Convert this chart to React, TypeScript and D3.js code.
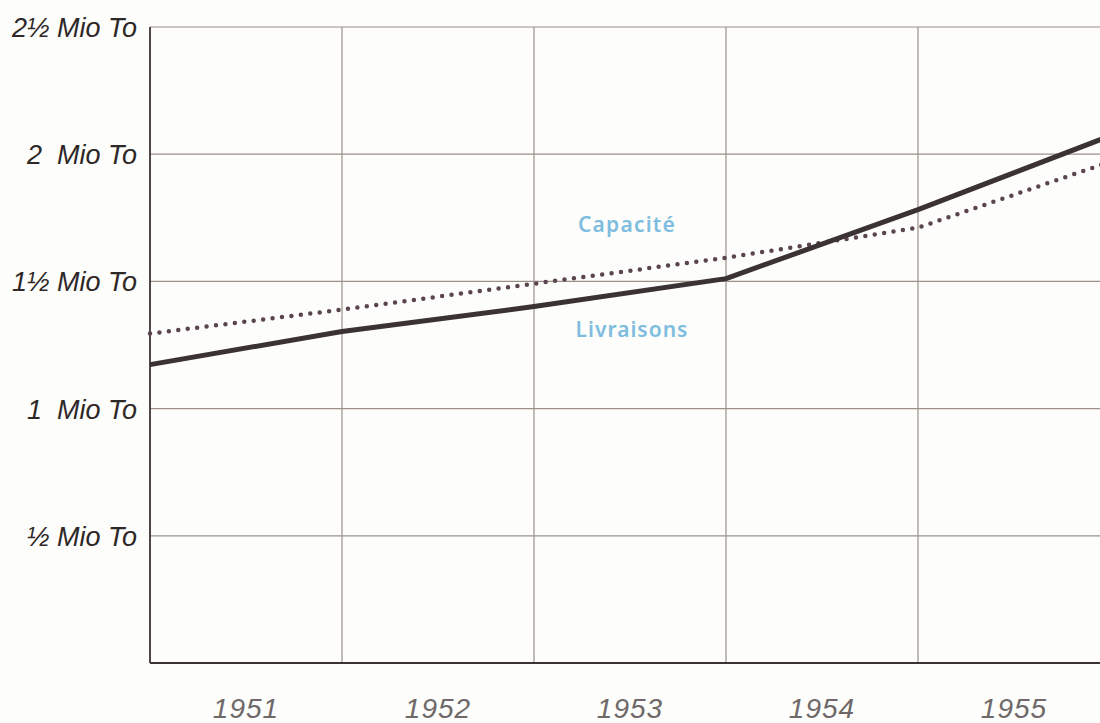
import React from 'react';
import { scaleLinear, line } from 'd3';

// year boundaries where the data is read (start of each year)
const YEARS = [1951, 1952, 1953, 1954, 1955, 1956];
const LIVRAISONS = [1.173, 1.303, 1.401, 1.511, 1.782, 2.072];
const CAPACITE = [1.295, 1.389, 1.491, 1.593, 1.711, 1.97];

const YEAR_LABELS = ['1951', '1952', '1953', '1954', '1955'];
const Y_TICKS = [0.5, 1, 1.5, 2, 2.5];
const Y_TICK_LABELS = ['½ Mio To', '1  Mio To', '1½ Mio To', '2  Mio To', '2½ Mio To'];

const W = 1100;
const H = 723;
const INK = '#3b3233';
const GRID = '#9a9088';
const BLUE = '#7fbde0';

export default function App() {
  const x = scaleLinear().domain([1951, 1956]).range([150, 1110]);
  const y = scaleLinear().domain([0, 2.5]).range([663, 27]);

  const pts = (vals: number[]) => YEARS.map((yr, i) => [x(yr), y(vals[i])] as [number, number]);
  const gen = line();

  return (
    <div style={{ position: 'fixed', left: 0, top: 0, width: W, height: H, background: '#fdfdfb' }}>
      <svg width={W} height={H} style={{ display: 'block' }}>
        {/* horizontal grid */}
        {Y_TICKS.map((t) => (
          <line key={t} x1={x(1951)} x2={W} y1={y(t)} y2={y(t)} stroke={GRID} strokeWidth={1.2} />
        ))}
        {/* vertical grid */}
        {YEARS.slice(1).map((yr) => (
          <line key={yr} x1={x(yr)} x2={x(yr)} y1={y(2.5)} y2={y(0)} stroke={GRID} strokeWidth={1.2} />
        ))}
        {/* frame */}
        <line x1={x(1951)} x2={x(1951)} y1={y(2.5)} y2={y(0)} stroke={INK} strokeWidth={1.8} />
        <line x1={x(1951)} x2={W} y1={y(0)} y2={y(0)} stroke={INK} strokeWidth={1.8} />

        {/* y labels */}
        {Y_TICKS.map((t, i) => (
          <text
            key={t}
            x={137}
            y={y(t) + 10}
            textAnchor="end"
            fontFamily="'Liberation Sans', Arial, sans-serif"
            fontStyle="italic"
            fontSize={27}
            fill="#2e2828"
            style={{ whiteSpace: 'pre' }}
          >
            {Y_TICK_LABELS[i]}
          </text>
        ))}

        {/* year labels */}
        {YEAR_LABELS.map((lab, i) => (
          <text
            key={lab}
            x={x(YEARS[i] + 0.5)}
            y={718}
            textAnchor="middle"
            fontFamily="'Liberation Sans', Arial, sans-serif"
            fontStyle="italic"
            fontSize={28}
            fill="#6e6868"
            letterSpacing={1}
          >
            {lab}
          </text>
        ))}

        {/* series */}
        <path
          d={gen(pts(CAPACITE)) || ''}
          fill="none"
          stroke="#5a4450"
          strokeWidth={4.5}
          strokeLinecap="round"
          strokeDasharray="0 9.5"
        />
        <path
          d={gen(pts(LIVRAISONS)) || ''}
          fill="none"
          stroke={INK}
          strokeWidth={5}
          strokeLinejoin="round"
        />

        {/* series labels */}
        <text x={627} y={232} textAnchor="middle" fontFamily="'Noto Sans', sans-serif" fontWeight={600} fontSize={21} fill={BLUE} letterSpacing={1.2}>
          Capacité
        </text>
        <text x={632} y={337} textAnchor="middle" fontFamily="'Noto Sans', sans-serif" fontWeight={600} fontSize={21} fill={BLUE} letterSpacing={1}>
          Livraisons
        </text>
      </svg>
    </div>
  );
}
